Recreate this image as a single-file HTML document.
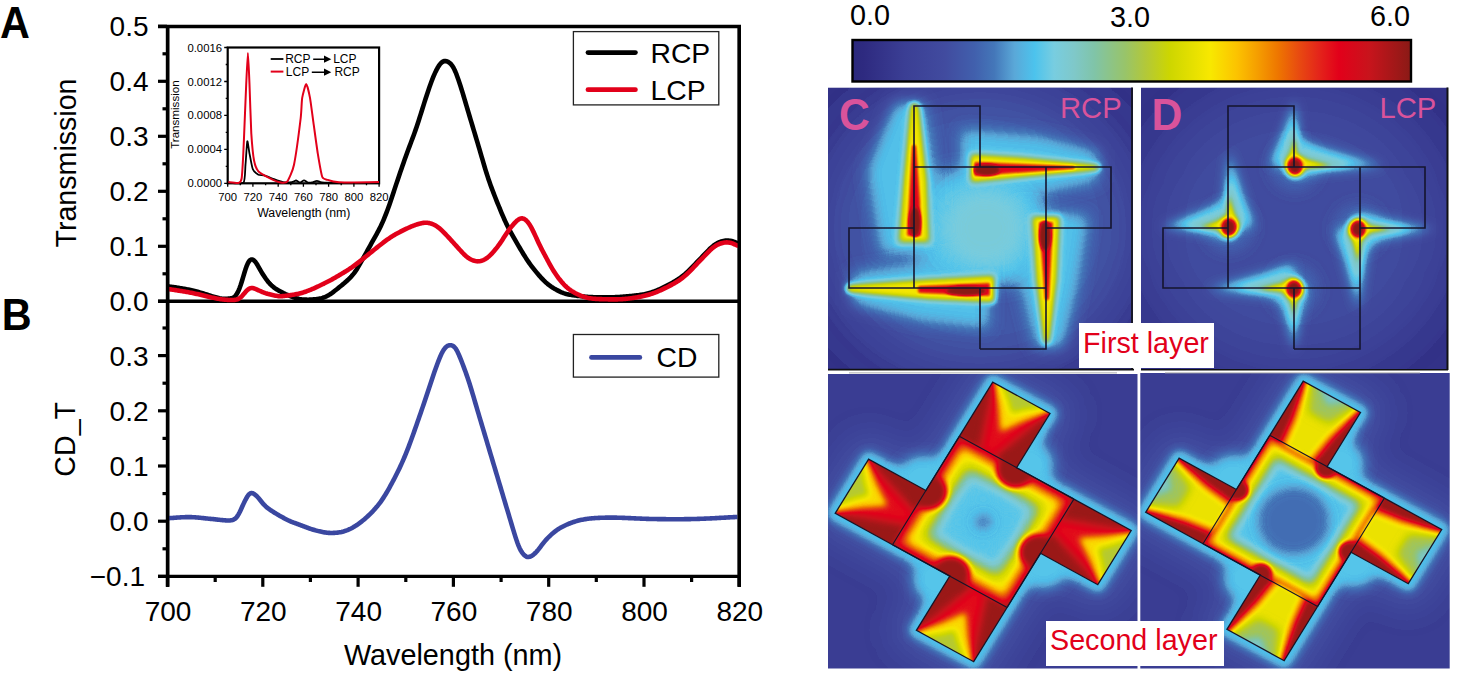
<!DOCTYPE html><html><head><meta charset="utf-8"><style>
html,body{margin:0;padding:0;background:#fff;width:1458px;height:674px;overflow:hidden}
svg{display:block}
text{font-family:"Liberation Sans",sans-serif}
</style></head><body>
<svg width="1458" height="674" viewBox="0 0 1458 674">
<defs>
<linearGradient id="cbar" x1="0" x2="1" y1="0" y2="0"><stop offset="0.000" stop-color="#2b297d"/><stop offset="0.020" stop-color="#2e2a80"/><stop offset="0.095" stop-color="#3b3f95"/><stop offset="0.165" stop-color="#414b9f"/><stop offset="0.219" stop-color="#4160ad"/><stop offset="0.254" stop-color="#4477b9"/><stop offset="0.290" stop-color="#5aa8d8"/><stop offset="0.326" stop-color="#4cc3ed"/><stop offset="0.361" stop-color="#78cde0"/><stop offset="0.397" stop-color="#7fc8c9"/><stop offset="0.433" stop-color="#80c4a8"/><stop offset="0.467" stop-color="#8fc481"/><stop offset="0.488" stop-color="#98c46a"/><stop offset="0.524" stop-color="#b2c83a"/><stop offset="0.568" stop-color="#cdd600"/><stop offset="0.641" stop-color="#f8e800"/><stop offset="0.689" stop-color="#fcc200"/><stop offset="0.725" stop-color="#f59e00"/><stop offset="0.762" stop-color="#ee7600"/><stop offset="0.798" stop-color="#e84c10"/><stop offset="0.834" stop-color="#e4261a"/><stop offset="0.871" stop-color="#e2001a"/><stop offset="0.925" stop-color="#c8141c"/><stop offset="1.000" stop-color="#8a1a16"/></linearGradient>
<filter id="cmap" x="0" y="0" width="1" height="1" color-interpolation-filters="sRGB">
<feComponentTransfer><feFuncR type="table" tableValues="0.169 0.178 0.188 0.199 0.210 0.221 0.231 0.237 0.242 0.247 0.253 0.255 0.255 0.255 0.256 0.261 0.267 0.305 0.343 0.335 0.311 0.334 0.412 0.474 0.486 0.498 0.500 0.501 0.522 0.549 0.576 0.608 0.653 0.697 0.736 0.774 0.812 0.849 0.885 0.922 0.959 0.976 0.981 0.986 0.981 0.969 0.957 0.945 0.933 0.923 0.913 0.905 0.898 0.893 0.889 0.882 0.852 0.823 0.793 0.747 0.696 0.644 0.593 0.541"/><feFuncG type="table" tableValues="0.161 0.164 0.178 0.195 0.212 0.230 0.247 0.258 0.269 0.279 0.290 0.309 0.333 0.357 0.385 0.426 0.467 0.551 0.636 0.693 0.740 0.773 0.791 0.802 0.793 0.784 0.777 0.771 0.769 0.769 0.769 0.770 0.777 0.784 0.804 0.824 0.843 0.858 0.873 0.889 0.904 0.879 0.830 0.781 0.724 0.662 0.598 0.530 0.463 0.391 0.318 0.250 0.185 0.120 0.056 0.003 0.026 0.049 0.072 0.082 0.087 0.092 0.097 0.102"/><feFuncB type="table" tableValues="0.490 0.500 0.515 0.532 0.550 0.567 0.584 0.593 0.602 0.611 0.620 0.633 0.649 0.666 0.683 0.704 0.725 0.779 0.833 0.874 0.910 0.919 0.896 0.868 0.828 0.789 0.732 0.675 0.607 0.536 0.466 0.394 0.311 0.228 0.146 0.064 0.000 0.000 0.000 0.000 0.000 0.000 0.000 0.000 0.000 0.000 0.000 0.000 0.000 0.027 0.055 0.075 0.093 0.102 0.102 0.102 0.105 0.107 0.109 0.106 0.101 0.096 0.091 0.086"/><feFuncA type="identity"/></feComponentTransfer>
</filter>
<filter id="b1" x="-50%" y="-50%" width="200%" height="200%"><feGaussianBlur stdDeviation="1"/></filter>
<filter id="b1_5" x="-50%" y="-50%" width="200%" height="200%"><feGaussianBlur stdDeviation="1.5"/></filter>
<filter id="b2_5" x="-50%" y="-50%" width="200%" height="200%"><feGaussianBlur stdDeviation="2.5"/></filter>
<filter id="b3_5" x="-50%" y="-50%" width="200%" height="200%"><feGaussianBlur stdDeviation="3.5"/></filter>
<filter id="b9" x="-50%" y="-50%" width="200%" height="200%"><feGaussianBlur stdDeviation="9"/></filter>
<filter id="b2" x="-50%" y="-50%" width="200%" height="200%"><feGaussianBlur stdDeviation="2"/></filter>
<filter id="b3" x="-50%" y="-50%" width="200%" height="200%"><feGaussianBlur stdDeviation="3"/></filter>
<filter id="b4" x="-50%" y="-50%" width="200%" height="200%"><feGaussianBlur stdDeviation="4"/></filter>
<filter id="b5" x="-50%" y="-50%" width="200%" height="200%"><feGaussianBlur stdDeviation="5"/></filter>
<filter id="b6" x="-50%" y="-50%" width="200%" height="200%"><feGaussianBlur stdDeviation="6"/></filter>
<filter id="b7" x="-50%" y="-50%" width="200%" height="200%"><feGaussianBlur stdDeviation="7"/></filter>
<filter id="b8" x="-50%" y="-50%" width="200%" height="200%"><feGaussianBlur stdDeviation="8"/></filter>
<filter id="b10" x="-50%" y="-50%" width="200%" height="200%"><feGaussianBlur stdDeviation="10"/></filter>
<filter id="b12" x="-50%" y="-50%" width="200%" height="200%"><feGaussianBlur stdDeviation="12"/></filter>
<filter id="b15" x="-50%" y="-50%" width="200%" height="200%"><feGaussianBlur stdDeviation="15"/></filter>
<filter id="b18" x="-50%" y="-50%" width="200%" height="200%"><feGaussianBlur stdDeviation="18"/></filter>
<filter id="b20" x="-50%" y="-50%" width="200%" height="200%"><feGaussianBlur stdDeviation="20"/></filter>
<filter id="b25" x="-50%" y="-50%" width="200%" height="200%"><feGaussianBlur stdDeviation="25"/></filter>
<filter id="b30" x="-50%" y="-50%" width="200%" height="200%"><feGaussianBlur stdDeviation="30"/></filter>
<clipPath id="clipC"><rect x="828" y="87.5" width="305" height="282.5"/></clipPath>
<clipPath id="clipD"><rect x="1141" y="87.5" width="307" height="282.5"/></clipPath>
<clipPath id="clipE"><rect x="828" y="374" width="309.5" height="294.5"/></clipPath>
<clipPath id="clipF"><rect x="1140.3" y="373" width="309.4" height="295.5"/></clipPath>
</defs>

<text x="0" y="37.8" font-size="45" font-weight="bold" transform="scale(0.92,1)">A</text>
<text x="2" y="329.6" font-size="45" font-weight="bold" transform="scale(0.92,1)">B</text>
<g stroke="#000" fill="none" stroke-linecap="butt">
<path d="M158.0,26.5 H739.3 V586.8" stroke-width="3.4"/>
<path d="M167.6,26.5 V586.8" stroke-width="3.4"/>
<path d="M158,301.3 H739.3" stroke-width="3.4"/>
<path d="M158,576.4 H739.3" stroke-width="3.4"/>
<path d="M158,301.3 H167" stroke-width="3.2"/>
<path d="M162.5,273.8 H167" stroke-width="3.2"/>
<path d="M158,246.3 H167" stroke-width="3.2"/>
<path d="M162.5,218.8 H167" stroke-width="3.2"/>
<path d="M158,191.3 H167" stroke-width="3.2"/>
<path d="M162.5,163.8 H167" stroke-width="3.2"/>
<path d="M158,136.3 H167" stroke-width="3.2"/>
<path d="M162.5,108.8 H167" stroke-width="3.2"/>
<path d="M158,81.3 H167" stroke-width="3.2"/>
<path d="M162.5,53.8 H167" stroke-width="3.2"/>
<path d="M158,26.3 H167" stroke-width="3.2"/>
<path d="M158,576.4 H167" stroke-width="3.2"/>
<path d="M162.5,548.8 H167" stroke-width="3.2"/>
<path d="M158,521.2 H167" stroke-width="3.2"/>
<path d="M162.5,493.6 H167" stroke-width="3.2"/>
<path d="M158,466.0 H167" stroke-width="3.2"/>
<path d="M162.5,438.4 H167" stroke-width="3.2"/>
<path d="M158,410.8 H167" stroke-width="3.2"/>
<path d="M162.5,383.2 H167" stroke-width="3.2"/>
<path d="M158,355.6 H167" stroke-width="3.2"/>
<path d="M162.5,328.0 H167" stroke-width="3.2"/>
<path d="M167.5,576.4 V586.8" stroke-width="3.2"/>
<path d="M215.2,576.4 V582" stroke-width="3.2"/>
<path d="M262.8,576.4 V586.8" stroke-width="3.2"/>
<path d="M310.4,576.4 V582" stroke-width="3.2"/>
<path d="M358.1,576.4 V586.8" stroke-width="3.2"/>
<path d="M405.8,576.4 V582" stroke-width="3.2"/>
<path d="M453.4,576.4 V586.8" stroke-width="3.2"/>
<path d="M501.1,576.4 V582" stroke-width="3.2"/>
<path d="M548.7,576.4 V586.8" stroke-width="3.2"/>
<path d="M596.3,576.4 V582" stroke-width="3.2"/>
<path d="M644.0,576.4 V586.8" stroke-width="3.2"/>
<path d="M691.6,576.4 V582" stroke-width="3.2"/>
<path d="M739.3,576.4 V586.8" stroke-width="3.2"/>
</g>
<g font-size="28" text-anchor="end" fill="#000">
<text x="148.5" y="311.3">0.0</text>
<text x="148.5" y="256.3">0.1</text>
<text x="148.5" y="201.3">0.2</text>
<text x="148.5" y="146.3">0.3</text>
<text x="148.5" y="91.3">0.4</text>
<text x="148.5" y="36.3">0.5</text>
<text x="148.5" y="365.6">0.3</text>
<text x="148.5" y="420.8">0.2</text>
<text x="148.5" y="476.0">0.1</text>
<text x="148.5" y="531.2">0.0</text>
<text x="145.0" y="586.4">−0.1</text>
</g>
<g font-size="28" text-anchor="middle" fill="#000">
<text x="168.0" y="620.8">700</text>
<text x="263.3" y="620.8">720</text>
<text x="358.6" y="620.8">740</text>
<text x="453.9" y="620.8">760</text>
<text x="549.2" y="620.8">780</text>
<text x="644.5" y="620.8">800</text>
<text x="739.8" y="620.8">820</text>
</g>
<text x="453" y="664.6" font-size="28.8" text-anchor="middle">Wavelength (nm)</text>
<text transform="translate(76,163) rotate(-90)" font-size="28.6" text-anchor="middle">Transmission</text>
<text transform="translate(75.3,439.3) rotate(-90)" font-size="28.6" text-anchor="middle">CD_T</text>
<path d="M167.5,286.32 L168.5,286.41 L169.5,286.53 L170.5,286.66 L171.5,286.81 L172.5,286.95 L173.5,287.10 L174.5,287.24 L175.5,287.39 L176.5,287.54 L177.5,287.69 L178.5,287.85 L179.5,288.00 L180.5,288.16 L181.5,288.32 L182.5,288.49 L183.5,288.66 L184.5,288.83 L185.5,289.01 L186.5,289.20 L187.5,289.39 L188.5,289.58 L189.5,289.78 L190.5,290.00 L191.5,290.22 L192.5,290.45 L193.5,290.69 L194.5,290.94 L195.5,291.21 L196.5,291.48 L197.5,291.76 L198.5,292.05 L199.5,292.34 L200.5,292.64 L201.5,292.94 L202.5,293.25 L203.5,293.56 L204.5,293.88 L205.5,294.19 L206.5,294.51 L207.5,294.82 L208.5,295.14 L209.5,295.45 L210.5,295.77 L211.5,296.08 L212.5,296.38 L213.5,296.68 L214.5,296.98 L215.5,297.26 L216.5,297.54 L217.5,297.80 L218.5,298.04 L219.5,298.26 L220.5,298.45 L221.5,298.62 L222.5,298.74 L223.5,298.83 L224.5,298.88 L225.5,298.88 L226.5,298.83 L227.5,298.75 L228.5,298.64 L229.5,298.52 L230.5,298.39 L231.5,298.22 L232.5,297.94 L233.5,297.48 L234.5,296.78 L235.5,295.77 L236.5,294.44 L237.5,292.75 L238.5,290.70 L239.5,288.29 L240.5,285.54 L241.5,282.50 L242.5,279.25 L243.5,275.89 L244.5,272.53 L245.5,269.34 L246.5,266.47 L247.5,264.03 L248.5,262.09 L249.5,260.68 L250.5,259.80 L251.5,259.43 L252.5,259.53 L253.5,260.03 L254.5,260.89 L255.5,262.04 L256.5,263.46 L257.5,265.06 L258.5,266.79 L259.5,268.57 L260.5,270.34 L261.5,272.05 L262.5,273.71 L263.5,275.30 L264.5,276.82 L265.5,278.27 L266.5,279.65 L267.5,280.95 L268.5,282.17 L269.5,283.30 L270.5,284.36 L271.5,285.34 L272.5,286.24 L273.5,287.08 L274.5,287.85 L275.5,288.57 L276.5,289.23 L277.5,289.86 L278.5,290.44 L279.5,291.00 L280.5,291.54 L281.5,292.07 L282.5,292.58 L283.5,293.09 L284.5,293.57 L285.5,294.05 L286.5,294.50 L287.5,294.94 L288.5,295.36 L289.5,295.77 L290.5,296.17 L291.5,296.56 L292.5,296.95 L293.5,297.32 L294.5,297.68 L295.5,298.02 L296.5,298.33 L297.5,298.60 L298.5,298.84 L299.5,299.04 L300.5,299.21 L301.5,299.35 L302.5,299.45 L303.5,299.54 L304.5,299.60 L305.5,299.65 L306.5,299.67 L307.5,299.68 L308.5,299.68 L309.5,299.65 L310.5,299.61 L311.5,299.55 L312.5,299.49 L313.5,299.40 L314.5,299.31 L315.5,299.20 L316.5,299.09 L317.5,298.95 L318.5,298.79 L319.5,298.61 L320.5,298.40 L321.5,298.16 L322.5,297.88 L323.5,297.55 L324.5,297.19 L325.5,296.77 L326.5,296.30 L327.5,295.79 L328.5,295.22 L329.5,294.62 L330.5,293.96 L331.5,293.28 L332.5,292.56 L333.5,291.81 L334.5,291.04 L335.5,290.26 L336.5,289.47 L337.5,288.68 L338.5,287.88 L339.5,287.07 L340.5,286.26 L341.5,285.45 L342.5,284.62 L343.5,283.79 L344.5,282.94 L345.5,282.07 L346.5,281.18 L347.5,280.27 L348.5,279.33 L349.5,278.35 L350.5,277.33 L351.5,276.25 L352.5,275.10 L353.5,273.88 L354.5,272.57 L355.5,271.16 L356.5,269.66 L357.5,268.08 L358.5,266.42 L359.5,264.70 L360.5,262.94 L361.5,261.17 L362.5,259.39 L363.5,257.62 L364.5,255.85 L365.5,254.08 L366.5,252.29 L367.5,250.49 L368.5,248.67 L369.5,246.84 L370.5,245.02 L371.5,243.20 L372.5,241.40 L373.5,239.62 L374.5,237.84 L375.5,236.06 L376.5,234.27 L377.5,232.45 L378.5,230.59 L379.5,228.66 L380.5,226.66 L381.5,224.58 L382.5,222.39 L383.5,220.10 L384.5,217.70 L385.5,215.22 L386.5,212.64 L387.5,209.98 L388.5,207.24 L389.5,204.41 L390.5,201.51 L391.5,198.54 L392.5,195.52 L393.5,192.47 L394.5,189.41 L395.5,186.38 L396.5,183.37 L397.5,180.40 L398.5,177.45 L399.5,174.52 L400.5,171.61 L401.5,168.71 L402.5,165.82 L403.5,162.95 L404.5,160.10 L405.5,157.28 L406.5,154.48 L407.5,151.72 L408.5,149.01 L409.5,146.33 L410.5,143.69 L411.5,141.05 L412.5,138.39 L413.5,135.70 L414.5,132.95 L415.5,130.13 L416.5,127.23 L417.5,124.24 L418.5,121.18 L419.5,118.07 L420.5,114.91 L421.5,111.72 L422.5,108.53 L423.5,105.34 L424.5,102.17 L425.5,99.03 L426.5,95.95 L427.5,92.92 L428.5,89.96 L429.5,87.06 L430.5,84.25 L431.5,81.53 L432.5,78.92 L433.5,76.44 L434.5,74.10 L435.5,71.91 L436.5,69.89 L437.5,68.04 L438.5,66.37 L439.5,64.91 L440.5,63.66 L441.5,62.64 L442.5,61.86 L443.5,61.34 L444.5,61.08 L445.5,61.06 L446.5,61.23 L447.5,61.58 L448.5,62.10 L449.5,62.79 L450.5,63.66 L451.5,64.77 L452.5,66.14 L453.5,67.79 L454.5,69.74 L455.5,71.99 L456.5,74.48 L457.5,77.18 L458.5,80.03 L459.5,83.00 L460.5,86.06 L461.5,89.20 L462.5,92.43 L463.5,95.74 L464.5,99.10 L465.5,102.48 L466.5,105.87 L467.5,109.25 L468.5,112.62 L469.5,115.97 L470.5,119.31 L471.5,122.65 L472.5,125.99 L473.5,129.33 L474.5,132.67 L475.5,136.01 L476.5,139.35 L477.5,142.71 L478.5,146.08 L479.5,149.46 L480.5,152.87 L481.5,156.30 L482.5,159.72 L483.5,163.13 L484.5,166.50 L485.5,169.81 L486.5,173.03 L487.5,176.15 L488.5,179.17 L489.5,182.08 L490.5,184.90 L491.5,187.64 L492.5,190.31 L493.5,192.92 L494.5,195.48 L495.5,198.02 L496.5,200.53 L497.5,203.03 L498.5,205.51 L499.5,207.96 L500.5,210.40 L501.5,212.80 L502.5,215.15 L503.5,217.46 L504.5,219.72 L505.5,221.91 L506.5,224.04 L507.5,226.09 L508.5,228.08 L509.5,230.01 L510.5,231.87 L511.5,233.69 L512.5,235.47 L513.5,237.22 L514.5,238.95 L515.5,240.67 L516.5,242.39 L517.5,244.10 L518.5,245.81 L519.5,247.52 L520.5,249.21 L521.5,250.89 L522.5,252.55 L523.5,254.19 L524.5,255.81 L525.5,257.39 L526.5,258.94 L527.5,260.44 L528.5,261.91 L529.5,263.33 L530.5,264.72 L531.5,266.06 L532.5,267.38 L533.5,268.66 L534.5,269.92 L535.5,271.15 L536.5,272.36 L537.5,273.55 L538.5,274.72 L539.5,275.87 L540.5,276.99 L541.5,278.09 L542.5,279.16 L543.5,280.19 L544.5,281.17 L545.5,282.11 L546.5,282.99 L547.5,283.83 L548.5,284.63 L549.5,285.39 L550.5,286.11 L551.5,286.81 L552.5,287.47 L553.5,288.10 L554.5,288.71 L555.5,289.28 L556.5,289.84 L557.5,290.36 L558.5,290.87 L559.5,291.36 L560.5,291.83 L561.5,292.27 L562.5,292.68 L563.5,293.06 L564.5,293.40 L565.5,293.71 L566.5,293.98 L567.5,294.22 L568.5,294.44 L569.5,294.64 L570.5,294.83 L571.5,295.00 L572.5,295.16 L573.5,295.31 L574.5,295.46 L575.5,295.59 L576.5,295.73 L577.5,295.85 L578.5,295.97 L579.5,296.09 L580.5,296.20 L581.5,296.31 L582.5,296.41 L583.5,296.51 L584.5,296.60 L585.5,296.69 L586.5,296.78 L587.5,296.86 L588.5,296.93 L589.5,297.00 L590.5,297.06 L591.5,297.12 L592.5,297.17 L593.5,297.22 L594.5,297.26 L595.5,297.30 L596.5,297.33 L597.5,297.35 L598.5,297.37 L599.5,297.39 L600.5,297.40 L601.5,297.41 L602.5,297.42 L603.5,297.42 L604.5,297.42 L605.5,297.41 L606.5,297.40 L607.5,297.39 L608.5,297.37 L609.5,297.35 L610.5,297.33 L611.5,297.30 L612.5,297.27 L613.5,297.24 L614.5,297.20 L615.5,297.16 L616.5,297.11 L617.5,297.06 L618.5,297.00 L619.5,296.94 L620.5,296.87 L621.5,296.80 L622.5,296.73 L623.5,296.65 L624.5,296.57 L625.5,296.48 L626.5,296.39 L627.5,296.30 L628.5,296.20 L629.5,296.11 L630.5,296.02 L631.5,295.92 L632.5,295.83 L633.5,295.73 L634.5,295.62 L635.5,295.52 L636.5,295.41 L637.5,295.29 L638.5,295.16 L639.5,295.03 L640.5,294.89 L641.5,294.74 L642.5,294.57 L643.5,294.40 L644.5,294.21 L645.5,294.00 L646.5,293.78 L647.5,293.54 L648.5,293.28 L649.5,293.00 L650.5,292.70 L651.5,292.38 L652.5,292.05 L653.5,291.70 L654.5,291.33 L655.5,290.94 L656.5,290.54 L657.5,290.12 L658.5,289.69 L659.5,289.24 L660.5,288.78 L661.5,288.31 L662.5,287.83 L663.5,287.34 L664.5,286.84 L665.5,286.34 L666.5,285.84 L667.5,285.33 L668.5,284.81 L669.5,284.29 L670.5,283.76 L671.5,283.22 L672.5,282.67 L673.5,282.10 L674.5,281.52 L675.5,280.93 L676.5,280.31 L677.5,279.68 L678.5,279.02 L679.5,278.34 L680.5,277.64 L681.5,276.90 L682.5,276.14 L683.5,275.35 L684.5,274.52 L685.5,273.66 L686.5,272.76 L687.5,271.84 L688.5,270.88 L689.5,269.91 L690.5,268.91 L691.5,267.90 L692.5,266.87 L693.5,265.83 L694.5,264.79 L695.5,263.74 L696.5,262.69 L697.5,261.64 L698.5,260.59 L699.5,259.55 L700.5,258.52 L701.5,257.49 L702.5,256.47 L703.5,255.43 L704.5,254.39 L705.5,253.34 L706.5,252.30 L707.5,251.26 L708.5,250.23 L709.5,249.24 L710.5,248.28 L711.5,247.37 L712.5,246.51 L713.5,245.71 L714.5,244.98 L715.5,244.30 L716.5,243.68 L717.5,243.12 L718.5,242.62 L719.5,242.17 L720.5,241.78 L721.5,241.43 L722.5,241.13 L723.5,240.90 L724.5,240.72 L725.5,240.60 L726.5,240.54 L727.5,240.53 L728.5,240.58 L729.5,240.69 L730.5,240.84 L731.5,241.04 L732.5,241.29 L733.5,241.60 L734.5,241.94 L735.5,242.30 L736.5,242.66 L737.5,242.98 L738.5,243.23" fill="none" stroke="#000" stroke-width="4.6" stroke-linejoin="round"/>
<path d="M167.5,289.03 L168.5,289.12 L169.5,289.24 L170.5,289.38 L171.5,289.53 L172.5,289.68 L173.5,289.83 L174.5,289.99 L175.5,290.14 L176.5,290.30 L177.5,290.46 L178.5,290.61 L179.5,290.77 L180.5,290.93 L181.5,291.09 L182.5,291.26 L183.5,291.42 L184.5,291.59 L185.5,291.76 L186.5,291.93 L187.5,292.11 L188.5,292.28 L189.5,292.46 L190.5,292.65 L191.5,292.84 L192.5,293.03 L193.5,293.23 L194.5,293.44 L195.5,293.66 L196.5,293.88 L197.5,294.10 L198.5,294.33 L199.5,294.56 L200.5,294.80 L201.5,295.04 L202.5,295.28 L203.5,295.52 L204.5,295.76 L205.5,296.00 L206.5,296.24 L207.5,296.48 L208.5,296.72 L209.5,296.96 L210.5,297.19 L211.5,297.42 L212.5,297.65 L213.5,297.87 L214.5,298.08 L215.5,298.29 L216.5,298.49 L217.5,298.67 L218.5,298.85 L219.5,299.01 L220.5,299.16 L221.5,299.30 L222.5,299.43 L223.5,299.54 L224.5,299.65 L225.5,299.74 L226.5,299.82 L227.5,299.89 L228.5,299.94 L229.5,299.98 L230.5,300.00 L231.5,300.00 L232.5,299.98 L233.5,299.94 L234.5,299.87 L235.5,299.75 L236.5,299.57 L237.5,299.29 L238.5,298.88 L239.5,298.30 L240.5,297.52 L241.5,296.56 L242.5,295.49 L243.5,294.34 L244.5,293.16 L245.5,292.01 L246.5,290.92 L247.5,289.95 L248.5,289.15 L249.5,288.55 L250.5,288.17 L251.5,288.01 L252.5,288.04 L253.5,288.25 L254.5,288.58 L255.5,288.98 L256.5,289.43 L257.5,289.88 L258.5,290.32 L259.5,290.76 L260.5,291.19 L261.5,291.61 L262.5,292.02 L263.5,292.42 L264.5,292.79 L265.5,293.14 L266.5,293.46 L267.5,293.76 L268.5,294.03 L269.5,294.29 L270.5,294.53 L271.5,294.76 L272.5,294.98 L273.5,295.20 L274.5,295.42 L275.5,295.64 L276.5,295.83 L277.5,296.00 L278.5,296.12 L279.5,296.19 L280.5,296.21 L281.5,296.18 L282.5,296.12 L283.5,296.04 L284.5,295.94 L285.5,295.82 L286.5,295.69 L287.5,295.56 L288.5,295.42 L289.5,295.27 L290.5,295.12 L291.5,294.97 L292.5,294.82 L293.5,294.66 L294.5,294.49 L295.5,294.32 L296.5,294.13 L297.5,293.93 L298.5,293.72 L299.5,293.49 L300.5,293.24 L301.5,292.97 L302.5,292.68 L303.5,292.37 L304.5,292.04 L305.5,291.70 L306.5,291.34 L307.5,290.96 L308.5,290.58 L309.5,290.19 L310.5,289.79 L311.5,289.38 L312.5,288.95 L313.5,288.52 L314.5,288.08 L315.5,287.63 L316.5,287.17 L317.5,286.71 L318.5,286.24 L319.5,285.76 L320.5,285.28 L321.5,284.79 L322.5,284.30 L323.5,283.81 L324.5,283.31 L325.5,282.81 L326.5,282.30 L327.5,281.78 L328.5,281.26 L329.5,280.73 L330.5,280.20 L331.5,279.66 L332.5,279.11 L333.5,278.55 L334.5,277.99 L335.5,277.42 L336.5,276.84 L337.5,276.26 L338.5,275.67 L339.5,275.08 L340.5,274.48 L341.5,273.88 L342.5,273.28 L343.5,272.67 L344.5,272.06 L345.5,271.45 L346.5,270.83 L347.5,270.21 L348.5,269.58 L349.5,268.93 L350.5,268.27 L351.5,267.60 L352.5,266.90 L353.5,266.19 L354.5,265.46 L355.5,264.71 L356.5,263.95 L357.5,263.17 L358.5,262.38 L359.5,261.59 L360.5,260.79 L361.5,259.99 L362.5,259.20 L363.5,258.40 L364.5,257.60 L365.5,256.79 L366.5,255.99 L367.5,255.18 L368.5,254.37 L369.5,253.56 L370.5,252.74 L371.5,251.93 L372.5,251.12 L373.5,250.31 L374.5,249.50 L375.5,248.70 L376.5,247.90 L377.5,247.10 L378.5,246.31 L379.5,245.52 L380.5,244.74 L381.5,243.97 L382.5,243.21 L383.5,242.45 L384.5,241.69 L385.5,240.95 L386.5,240.21 L387.5,239.48 L388.5,238.77 L389.5,238.08 L390.5,237.40 L391.5,236.75 L392.5,236.12 L393.5,235.51 L394.5,234.92 L395.5,234.34 L396.5,233.78 L397.5,233.23 L398.5,232.69 L399.5,232.16 L400.5,231.64 L401.5,231.13 L402.5,230.62 L403.5,230.13 L404.5,229.64 L405.5,229.16 L406.5,228.69 L407.5,228.23 L408.5,227.77 L409.5,227.33 L410.5,226.90 L411.5,226.49 L412.5,226.08 L413.5,225.69 L414.5,225.31 L415.5,224.94 L416.5,224.59 L417.5,224.25 L418.5,223.94 L419.5,223.65 L420.5,223.39 L421.5,223.16 L422.5,222.98 L423.5,222.84 L424.5,222.75 L425.5,222.71 L426.5,222.73 L427.5,222.80 L428.5,222.93 L429.5,223.12 L430.5,223.37 L431.5,223.68 L432.5,224.05 L433.5,224.49 L434.5,224.98 L435.5,225.53 L436.5,226.14 L437.5,226.81 L438.5,227.54 L439.5,228.35 L440.5,229.21 L441.5,230.13 L442.5,231.10 L443.5,232.10 L444.5,233.13 L445.5,234.18 L446.5,235.23 L447.5,236.28 L448.5,237.34 L449.5,238.41 L450.5,239.49 L451.5,240.59 L452.5,241.69 L453.5,242.81 L454.5,243.93 L455.5,245.04 L456.5,246.15 L457.5,247.26 L458.5,248.36 L459.5,249.45 L460.5,250.54 L461.5,251.63 L462.5,252.71 L463.5,253.75 L464.5,254.75 L465.5,255.69 L466.5,256.55 L467.5,257.33 L468.5,258.03 L469.5,258.66 L470.5,259.23 L471.5,259.74 L472.5,260.18 L473.5,260.56 L474.5,260.87 L475.5,261.10 L476.5,261.26 L477.5,261.33 L478.5,261.31 L479.5,261.22 L480.5,261.04 L481.5,260.78 L482.5,260.44 L483.5,260.02 L484.5,259.52 L485.5,258.94 L486.5,258.28 L487.5,257.55 L488.5,256.74 L489.5,255.86 L490.5,254.91 L491.5,253.89 L492.5,252.82 L493.5,251.70 L494.5,250.54 L495.5,249.34 L496.5,248.09 L497.5,246.81 L498.5,245.48 L499.5,244.10 L500.5,242.66 L501.5,241.17 L502.5,239.63 L503.5,238.07 L504.5,236.50 L505.5,234.95 L506.5,233.43 L507.5,231.96 L508.5,230.55 L509.5,229.20 L510.5,227.90 L511.5,226.64 L512.5,225.42 L513.5,224.25 L514.5,223.12 L515.5,222.07 L516.5,221.10 L517.5,220.25 L518.5,219.53 L519.5,218.97 L520.5,218.59 L521.5,218.40 L522.5,218.42 L523.5,218.66 L524.5,219.11 L525.5,219.79 L526.5,220.68 L527.5,221.78 L528.5,223.05 L529.5,224.51 L530.5,226.14 L531.5,227.92 L532.5,229.84 L533.5,231.86 L534.5,233.97 L535.5,236.13 L536.5,238.32 L537.5,240.52 L538.5,242.68 L539.5,244.80 L540.5,246.86 L541.5,248.85 L542.5,250.77 L543.5,252.66 L544.5,254.53 L545.5,256.39 L546.5,258.25 L547.5,260.11 L548.5,261.97 L549.5,263.80 L550.5,265.60 L551.5,267.36 L552.5,269.06 L553.5,270.71 L554.5,272.29 L555.5,273.80 L556.5,275.26 L557.5,276.66 L558.5,278.01 L559.5,279.31 L560.5,280.55 L561.5,281.75 L562.5,282.89 L563.5,283.99 L564.5,285.04 L565.5,286.04 L566.5,286.99 L567.5,287.88 L568.5,288.71 L569.5,289.49 L570.5,290.21 L571.5,290.88 L572.5,291.51 L573.5,292.10 L574.5,292.66 L575.5,293.20 L576.5,293.71 L577.5,294.20 L578.5,294.67 L579.5,295.11 L580.5,295.53 L581.5,295.93 L582.5,296.30 L583.5,296.64 L584.5,296.96 L585.5,297.25 L586.5,297.52 L587.5,297.76 L588.5,297.97 L589.5,298.16 L590.5,298.32 L591.5,298.46 L592.5,298.59 L593.5,298.69 L594.5,298.79 L595.5,298.86 L596.5,298.93 L597.5,298.99 L598.5,299.04 L599.5,299.09 L600.5,299.13 L601.5,299.16 L602.5,299.19 L603.5,299.22 L604.5,299.24 L605.5,299.26 L606.5,299.29 L607.5,299.31 L608.5,299.33 L609.5,299.35 L610.5,299.36 L611.5,299.37 L612.5,299.38 L613.5,299.39 L614.5,299.38 L615.5,299.38 L616.5,299.36 L617.5,299.34 L618.5,299.31 L619.5,299.28 L620.5,299.23 L621.5,299.18 L622.5,299.12 L623.5,299.04 L624.5,298.96 L625.5,298.87 L626.5,298.77 L627.5,298.67 L628.5,298.55 L629.5,298.43 L630.5,298.31 L631.5,298.17 L632.5,298.03 L633.5,297.89 L634.5,297.74 L635.5,297.58 L636.5,297.42 L637.5,297.24 L638.5,297.07 L639.5,296.88 L640.5,296.69 L641.5,296.48 L642.5,296.27 L643.5,296.05 L644.5,295.82 L645.5,295.58 L646.5,295.32 L647.5,295.05 L648.5,294.77 L649.5,294.48 L650.5,294.17 L651.5,293.85 L652.5,293.51 L653.5,293.16 L654.5,292.80 L655.5,292.42 L656.5,292.02 L657.5,291.62 L658.5,291.20 L659.5,290.76 L660.5,290.32 L661.5,289.86 L662.5,289.39 L663.5,288.92 L664.5,288.43 L665.5,287.94 L666.5,287.44 L667.5,286.94 L668.5,286.43 L669.5,285.91 L670.5,285.39 L671.5,284.86 L672.5,284.31 L673.5,283.76 L674.5,283.18 L675.5,282.60 L676.5,281.99 L677.5,281.36 L678.5,280.71 L679.5,280.03 L680.5,279.33 L681.5,278.60 L682.5,277.84 L683.5,277.04 L684.5,276.21 L685.5,275.35 L686.5,274.45 L687.5,273.52 L688.5,272.57 L689.5,271.58 L690.5,270.58 L691.5,269.56 L692.5,268.53 L693.5,267.48 L694.5,266.43 L695.5,265.37 L696.5,264.31 L697.5,263.26 L698.5,262.21 L699.5,261.16 L700.5,260.13 L701.5,259.09 L702.5,258.06 L703.5,257.02 L704.5,255.98 L705.5,254.93 L706.5,253.88 L707.5,252.84 L708.5,251.82 L709.5,250.82 L710.5,249.87 L711.5,248.96 L712.5,248.11 L713.5,247.32 L714.5,246.60 L715.5,245.94 L716.5,245.34 L717.5,244.80 L718.5,244.32 L719.5,243.90 L720.5,243.52 L721.5,243.20 L722.5,242.93 L723.5,242.71 L724.5,242.55 L725.5,242.44 L726.5,242.40 L727.5,242.42 L728.5,242.50 L729.5,242.64 L730.5,242.84 L731.5,243.11 L732.5,243.44 L733.5,243.84 L734.5,244.28 L735.5,244.74 L736.5,245.20 L737.5,245.61 L738.5,245.93" fill="none" stroke="#e2001a" stroke-width="4.6" stroke-linejoin="round"/>
<path d="M167.5,518.25 L168.5,518.20 L169.5,518.15 L170.5,518.08 L171.5,518.01 L172.5,517.93 L173.5,517.86 L174.5,517.78 L175.5,517.71 L176.5,517.64 L177.5,517.57 L178.5,517.50 L179.5,517.44 L180.5,517.38 L181.5,517.32 L182.5,517.27 L183.5,517.23 L184.5,517.19 L185.5,517.16 L186.5,517.13 L187.5,517.12 L188.5,517.12 L189.5,517.12 L190.5,517.14 L191.5,517.17 L192.5,517.21 L193.5,517.26 L194.5,517.32 L195.5,517.39 L196.5,517.47 L197.5,517.55 L198.5,517.64 L199.5,517.73 L200.5,517.83 L201.5,517.93 L202.5,518.03 L203.5,518.14 L204.5,518.25 L205.5,518.35 L206.5,518.46 L207.5,518.57 L208.5,518.67 L209.5,518.77 L210.5,518.87 L211.5,518.96 L212.5,519.06 L213.5,519.16 L214.5,519.26 L215.5,519.37 L216.5,519.48 L217.5,519.59 L218.5,519.71 L219.5,519.82 L220.5,519.94 L221.5,520.05 L222.5,520.15 L223.5,520.25 L224.5,520.33 L225.5,520.40 L226.5,520.45 L227.5,520.48 L228.5,520.47 L229.5,520.43 L230.5,520.35 L231.5,520.20 L232.5,519.96 L233.5,519.61 L234.5,519.08 L235.5,518.33 L236.5,517.32 L237.5,516.02 L238.5,514.41 L239.5,512.54 L240.5,510.45 L241.5,508.26 L242.5,506.04 L243.5,503.88 L244.5,501.80 L245.5,499.81 L246.5,497.95 L247.5,496.28 L248.5,494.88 L249.5,493.84 L250.5,493.23 L251.5,493.05 L252.5,493.23 L253.5,493.67 L254.5,494.30 L255.5,495.07 L256.5,495.94 L257.5,496.93 L258.5,498.02 L259.5,499.21 L260.5,500.46 L261.5,501.73 L262.5,502.96 L263.5,504.14 L264.5,505.22 L265.5,506.21 L266.5,507.11 L267.5,507.93 L268.5,508.70 L269.5,509.42 L270.5,510.11 L271.5,510.78 L272.5,511.43 L273.5,512.06 L274.5,512.69 L275.5,513.30 L276.5,513.90 L277.5,514.49 L278.5,515.08 L279.5,515.66 L280.5,516.23 L281.5,516.79 L282.5,517.34 L283.5,517.89 L284.5,518.43 L285.5,518.96 L286.5,519.47 L287.5,519.97 L288.5,520.45 L289.5,520.91 L290.5,521.35 L291.5,521.77 L292.5,522.17 L293.5,522.55 L294.5,522.92 L295.5,523.28 L296.5,523.64 L297.5,524.00 L298.5,524.36 L299.5,524.73 L300.5,525.10 L301.5,525.48 L302.5,525.86 L303.5,526.24 L304.5,526.62 L305.5,527.00 L306.5,527.38 L307.5,527.75 L308.5,528.12 L309.5,528.47 L310.5,528.82 L311.5,529.15 L312.5,529.47 L313.5,529.78 L314.5,530.07 L315.5,530.35 L316.5,530.62 L317.5,530.87 L318.5,531.12 L319.5,531.36 L320.5,531.58 L321.5,531.80 L322.5,532.00 L323.5,532.19 L324.5,532.36 L325.5,532.51 L326.5,532.65 L327.5,532.76 L328.5,532.84 L329.5,532.90 L330.5,532.94 L331.5,532.96 L332.5,532.95 L333.5,532.92 L334.5,532.87 L335.5,532.81 L336.5,532.72 L337.5,532.61 L338.5,532.48 L339.5,532.32 L340.5,532.14 L341.5,531.93 L342.5,531.69 L343.5,531.43 L344.5,531.13 L345.5,530.81 L346.5,530.45 L347.5,530.06 L348.5,529.64 L349.5,529.18 L350.5,528.70 L351.5,528.19 L352.5,527.65 L353.5,527.08 L354.5,526.48 L355.5,525.86 L356.5,525.21 L357.5,524.53 L358.5,523.83 L359.5,523.11 L360.5,522.36 L361.5,521.59 L362.5,520.79 L363.5,519.98 L364.5,519.14 L365.5,518.27 L366.5,517.39 L367.5,516.48 L368.5,515.55 L369.5,514.59 L370.5,513.61 L371.5,512.61 L372.5,511.57 L373.5,510.51 L374.5,509.41 L375.5,508.28 L376.5,507.11 L377.5,505.91 L378.5,504.65 L379.5,503.36 L380.5,502.01 L381.5,500.61 L382.5,499.15 L383.5,497.64 L384.5,496.07 L385.5,494.45 L386.5,492.78 L387.5,491.06 L388.5,489.31 L389.5,487.52 L390.5,485.71 L391.5,483.87 L392.5,482.01 L393.5,480.12 L394.5,478.21 L395.5,476.26 L396.5,474.29 L397.5,472.29 L398.5,470.25 L399.5,468.16 L400.5,466.04 L401.5,463.86 L402.5,461.64 L403.5,459.36 L404.5,457.02 L405.5,454.62 L406.5,452.15 L407.5,449.63 L408.5,447.05 L409.5,444.41 L410.5,441.72 L411.5,439.00 L412.5,436.24 L413.5,433.44 L414.5,430.63 L415.5,427.79 L416.5,424.94 L417.5,422.09 L418.5,419.22 L419.5,416.35 L420.5,413.46 L421.5,410.55 L422.5,407.62 L423.5,404.67 L424.5,401.70 L425.5,398.71 L426.5,395.71 L427.5,392.71 L428.5,389.70 L429.5,386.69 L430.5,383.69 L431.5,380.69 L432.5,377.72 L433.5,374.78 L434.5,371.87 L435.5,369.01 L436.5,366.20 L437.5,363.46 L438.5,360.83 L439.5,358.33 L440.5,355.98 L441.5,353.82 L442.5,351.87 L443.5,350.16 L444.5,348.71 L445.5,347.53 L446.5,346.61 L447.5,345.94 L448.5,345.49 L449.5,345.25 L450.5,345.20 L451.5,345.34 L452.5,345.68 L453.5,346.27 L454.5,347.15 L455.5,348.36 L456.5,349.91 L457.5,351.79 L458.5,353.92 L459.5,356.24 L460.5,358.68 L461.5,361.20 L462.5,363.78 L463.5,366.41 L464.5,369.09 L465.5,371.83 L466.5,374.64 L467.5,377.53 L468.5,380.51 L469.5,383.58 L470.5,386.75 L471.5,389.99 L472.5,393.31 L473.5,396.68 L474.5,400.08 L475.5,403.50 L476.5,406.91 L477.5,410.31 L478.5,413.69 L479.5,417.06 L480.5,420.41 L481.5,423.75 L482.5,427.09 L483.5,430.43 L484.5,433.77 L485.5,437.11 L486.5,440.45 L487.5,443.79 L488.5,447.13 L489.5,450.47 L490.5,453.81 L491.5,457.15 L492.5,460.49 L493.5,463.83 L494.5,467.17 L495.5,470.51 L496.5,473.86 L497.5,477.20 L498.5,480.54 L499.5,483.89 L500.5,487.24 L501.5,490.59 L502.5,493.94 L503.5,497.29 L504.5,500.63 L505.5,503.97 L506.5,507.30 L507.5,510.63 L508.5,513.96 L509.5,517.30 L510.5,520.64 L511.5,523.99 L512.5,527.34 L513.5,530.65 L514.5,533.91 L515.5,537.09 L516.5,540.14 L517.5,543.01 L518.5,545.63 L519.5,547.97 L520.5,549.98 L521.5,551.68 L522.5,553.10 L523.5,554.30 L524.5,555.31 L525.5,556.11 L526.5,556.68 L527.5,556.99 L528.5,557.04 L529.5,556.86 L530.5,556.49 L531.5,555.98 L532.5,555.34 L533.5,554.59 L534.5,553.74 L535.5,552.80 L536.5,551.75 L537.5,550.62 L538.5,549.40 L539.5,548.12 L540.5,546.80 L541.5,545.47 L542.5,544.15 L543.5,542.87 L544.5,541.63 L545.5,540.46 L546.5,539.34 L547.5,538.28 L548.5,537.26 L549.5,536.28 L550.5,535.33 L551.5,534.42 L552.5,533.53 L553.5,532.68 L554.5,531.86 L555.5,531.09 L556.5,530.35 L557.5,529.66 L558.5,529.00 L559.5,528.38 L560.5,527.79 L561.5,527.23 L562.5,526.70 L563.5,526.19 L564.5,525.70 L565.5,525.23 L566.5,524.77 L567.5,524.33 L568.5,523.91 L569.5,523.50 L570.5,523.11 L571.5,522.74 L572.5,522.38 L573.5,522.04 L574.5,521.72 L575.5,521.41 L576.5,521.11 L577.5,520.83 L578.5,520.57 L579.5,520.32 L580.5,520.09 L581.5,519.87 L582.5,519.67 L583.5,519.48 L584.5,519.30 L585.5,519.14 L586.5,518.98 L587.5,518.84 L588.5,518.71 L589.5,518.59 L590.5,518.48 L591.5,518.38 L592.5,518.29 L593.5,518.20 L594.5,518.13 L595.5,518.06 L596.5,518.00 L597.5,517.94 L598.5,517.89 L599.5,517.85 L600.5,517.81 L601.5,517.78 L602.5,517.74 L603.5,517.72 L604.5,517.69 L605.5,517.67 L606.5,517.65 L607.5,517.64 L608.5,517.63 L609.5,517.61 L610.5,517.61 L611.5,517.60 L612.5,517.61 L613.5,517.61 L614.5,517.62 L615.5,517.64 L616.5,517.65 L617.5,517.68 L618.5,517.70 L619.5,517.73 L620.5,517.76 L621.5,517.80 L622.5,517.83 L623.5,517.87 L624.5,517.91 L625.5,517.95 L626.5,517.99 L627.5,518.04 L628.5,518.08 L629.5,518.12 L630.5,518.17 L631.5,518.21 L632.5,518.26 L633.5,518.31 L634.5,518.35 L635.5,518.40 L636.5,518.44 L637.5,518.49 L638.5,518.53 L639.5,518.57 L640.5,518.62 L641.5,518.66 L642.5,518.70 L643.5,518.74 L644.5,518.77 L645.5,518.81 L646.5,518.84 L647.5,518.87 L648.5,518.90 L649.5,518.93 L650.5,518.95 L651.5,518.98 L652.5,519.00 L653.5,519.01 L654.5,519.03 L655.5,519.05 L656.5,519.06 L657.5,519.08 L658.5,519.09 L659.5,519.10 L660.5,519.12 L661.5,519.13 L662.5,519.14 L663.5,519.15 L664.5,519.16 L665.5,519.17 L666.5,519.18 L667.5,519.19 L668.5,519.19 L669.5,519.20 L670.5,519.21 L671.5,519.21 L672.5,519.21 L673.5,519.22 L674.5,519.22 L675.5,519.22 L676.5,519.22 L677.5,519.22 L678.5,519.21 L679.5,519.21 L680.5,519.20 L681.5,519.20 L682.5,519.19 L683.5,519.18 L684.5,519.17 L685.5,519.16 L686.5,519.15 L687.5,519.14 L688.5,519.12 L689.5,519.10 L690.5,519.09 L691.5,519.07 L692.5,519.05 L693.5,519.02 L694.5,519.00 L695.5,518.97 L696.5,518.95 L697.5,518.92 L698.5,518.88 L699.5,518.85 L700.5,518.81 L701.5,518.78 L702.5,518.74 L703.5,518.70 L704.5,518.66 L705.5,518.61 L706.5,518.57 L707.5,518.52 L708.5,518.48 L709.5,518.43 L710.5,518.38 L711.5,518.33 L712.5,518.29 L713.5,518.24 L714.5,518.18 L715.5,518.13 L716.5,518.08 L717.5,518.03 L718.5,517.97 L719.5,517.92 L720.5,517.87 L721.5,517.81 L722.5,517.76 L723.5,517.70 L724.5,517.65 L725.5,517.59 L726.5,517.53 L727.5,517.48 L728.5,517.42 L729.5,517.37 L730.5,517.31 L731.5,517.25 L732.5,517.20 L733.5,517.14 L734.5,517.09 L735.5,517.04 L736.5,516.99 L737.5,516.96" fill="none" stroke="#3a47a0" stroke-width="4.6" stroke-linejoin="round"/>
<path d="M167.6,26.5 V586.8 M739.3,26.5 V586.8" stroke="#000" stroke-width="3.4"/>
<rect x="573.4" y="31.6" width="145.4" height="73.3" fill="#fff" stroke="#222" stroke-width="1.3"/>
<path d="M588,52.6 H635.4" stroke="#000" stroke-width="4.8" stroke-linecap="round"/>
<path d="M588,89.7 H635.4" stroke="#e2001a" stroke-width="4.8" stroke-linecap="round"/>
<text x="650.5" y="62.7" font-size="28.3">RCP</text>
<text x="650.5" y="99.7" font-size="28.3">LCP</text>
<rect x="573.4" y="334.5" width="145.4" height="42.6" fill="#fff" stroke="#222" stroke-width="1.3"/>
<path d="M591.5,357.4 H639.8" stroke="#3a47a0" stroke-width="4.8" stroke-linecap="round"/>
<text x="656.5" y="366.7" font-size="28.3">CD</text>
<g>
<rect x="227.7" y="47.5" width="151.4" height="135.8" fill="#fff" stroke="#000" stroke-width="2.2"/>
<path d="M228.3,182.7 C229.8,182.7 241.8,184.5 243.5,182.7 C245.2,180.9 245.1,168.8 245.5,164.7 C245.9,160.6 246.9,142.4 247.3,141.3 C247.7,140.2 248.9,150.8 249.5,153.6 C250.1,156.4 251.9,167.1 252.8,169.2 C253.7,171.3 257.3,174.1 258.4,174.7 C259.5,175.3 262.4,175.0 264.0,175.4 C265.6,175.8 272.1,178.5 274.0,179.2 C275.9,179.9 281.1,181.8 282.9,182.1 C284.7,182.4 290.5,182.3 291.8,182.1 C293.1,181.9 295.2,180.5 296.0,180.5 C296.8,180.5 299.2,182.5 300.0,182.5 C300.8,182.5 303.2,180.3 304.0,180.3 C304.8,180.3 307.2,182.3 308.0,182.5 C308.8,182.7 311.1,182.7 312.0,182.5 C312.9,182.3 316.0,180.8 317.0,180.8 C318.0,180.8 319.7,182.3 322.0,182.5 C324.3,182.7 334.3,182.8 340.0,182.8 C345.7,182.8 375.1,182.8 379.0,182.8" fill="none" stroke="#000" stroke-width="1.8" stroke-linejoin="round"/>
<path d="M228.3,182.1 C229.3,182.2 237.1,183.4 238.4,183.0 C239.7,182.6 241.1,182.4 241.7,178.1 C242.2,173.8 243.5,149.6 243.9,140.2 C244.3,130.8 245.8,93.2 246.2,84.5 C246.6,75.8 247.6,52.9 247.9,52.9 C248.2,52.9 249.2,76.4 249.5,84.5 C249.8,92.6 250.9,125.9 251.3,133.5 C251.8,141.1 253.3,156.5 254.0,160.3 C254.7,164.1 256.8,169.6 258.4,171.4 C259.9,173.2 267.3,177.0 269.5,178.1 C271.7,179.2 278.9,182.2 280.7,182.5 C282.5,182.8 286.1,183.2 287.4,181.4 C288.7,179.6 292.7,171.0 294.0,164.7 C295.3,158.4 299.9,124.7 300.7,118.0 C301.5,111.3 301.6,101.3 302.2,97.9 C302.8,94.5 305.4,84.1 306.2,84.1 C307.0,84.1 309.3,94.1 310.0,97.9 C310.7,101.7 312.6,116.8 313.4,122.4 C314.2,128.0 316.9,148.1 317.8,153.6 C318.7,159.1 321.3,174.4 322.3,177.0 C323.3,179.6 326.7,179.5 327.8,179.9 C328.9,180.3 331.7,181.1 333.4,181.4 C335.1,181.7 339.9,182.4 344.5,182.5 C349.1,182.6 375.6,182.1 379.0,182.1" fill="none" stroke="#e2001a" stroke-width="2" stroke-linejoin="round"/>
<path d="M224.2,183.3 H227.7 M225.7,166.3 H227.7 M224.2,149.4 H227.7 M225.7,132.4 H227.7 M224.2,115.4 H227.7 M225.7,98.4 H227.7 M224.2,81.5 H227.7 M225.7,64.5 H227.7 M224.2,47.5 H227.7 M227.7,183.3 V186.8 M240.3,183.3 V185.3 M252.9,183.3 V186.8 M265.6,183.3 V185.3 M278.2,183.3 V186.8 M290.8,183.3 V185.3 M303.4,183.3 V186.8 M316.0,183.3 V185.3 M328.6,183.3 V186.8 M341.2,183.3 V185.3 M353.9,183.3 V186.8 M366.5,183.3 V185.3 M379.1,183.3 V186.8 " stroke="#000" stroke-width="1.3"/>
<g font-size="11.3" fill="#000">
<text x="222" y="187.3" text-anchor="end" transform="translate(222,0) scale(1.0,1) translate(-222,0)">0.0000</text>
<text x="222" y="153.4" text-anchor="end" transform="translate(222,0) scale(1.0,1) translate(-222,0)">0.0004</text>
<text x="222" y="119.4" text-anchor="end" transform="translate(222,0) scale(1.0,1) translate(-222,0)">0.0008</text>
<text x="222" y="85.5" text-anchor="end" transform="translate(222,0) scale(1.0,1) translate(-222,0)">0.0012</text>
<text x="222" y="51.5" text-anchor="end" transform="translate(222,0) scale(1.0,1) translate(-222,0)">0.0016</text>
<text x="227.7" y="201.3" text-anchor="middle">700</text>
<text x="252.9" y="201.3" text-anchor="middle">720</text>
<text x="278.2" y="201.3" text-anchor="middle">740</text>
<text x="303.4" y="201.3" text-anchor="middle">760</text>
<text x="328.6" y="201.3" text-anchor="middle">780</text>
<text x="353.9" y="201.3" text-anchor="middle">800</text>
<text x="379.1" y="201.3" text-anchor="middle">820</text>
<text x="303.8" y="216.8" text-anchor="middle" font-size="12.3">Wavelength (nm)</text>
<text transform="translate(179,114.6) rotate(-90)" text-anchor="middle" font-size="11.6">Transmission</text>
<path d="M270.7,59 H283.4" stroke="#000" stroke-width="1.8"/>
<path d="M270.7,71.6 H283.4" stroke="#e2001a" stroke-width="2"/>
<text x="285.2" y="62.8" font-size="12">RCP</text>
<text x="333.2" y="62.8" font-size="12">LCP</text>
<text x="285.8" y="75.8" font-size="12">LCP</text>
<text x="334.4" y="75.8" font-size="12">RCP</text>
</g>
<path d="M313.2,59.2 H325 M311.8,72.2 H325" stroke="#000" stroke-width="1.5"/>
<path d="M324,55.6 L331.3,59.2 L324,62.8 Z M324,68.6 L331.3,72.2 L324,75.8 Z" fill="#000"/>
</g>
<rect x="852.5" y="40" width="558.5" height="41.5" fill="url(#cbar)" stroke="#000" stroke-width="2.4"/>
<g font-size="28" fill="#000">
<text x="850" y="24.8" font-size="28.8">0.0</text>
<text x="1110" y="26.8" font-size="28.8">3.0</text>
<text x="1370" y="25.7" font-size="28.8">6.0</text>
</g><g clip-path="url(#clipC)"><g filter="url(#cmap)">
<rect x="828.0" y="87.5" width="305.0" height="282.5" rx="0.0" fill="#0d0d0d"/>
<g filter="url(#b30)"><ellipse cx="980.0" cy="228.0" rx="175.0" ry="160.0" fill="#1f1f1f" transform="rotate(0.0 980.0 228.0)"/></g>
<g filter="url(#b20)"><ellipse cx="980.0" cy="228.0" rx="150.0" ry="140.0" fill="#333333" transform="rotate(0.0 980.0 228.0)"/></g>
<g filter="url(#b10)"><rect x="918.0" y="170.0" width="124.0" height="115.0" rx="40.0" fill="#545454"/></g>
<g filter="url(#b8)"><polygon points="893.0,100.0 925.0,100.0 936.0,170.0 942.0,255.0 880.0,255.0 866.0,170.0" fill="#525252"/></g>
<g filter="url(#b8)"><polygon points="960.0,128.0 1040.0,135.0 1100.0,150.0 1100.0,182.0 1040.0,195.0 960.0,205.0" fill="#525252"/></g>
<g filter="url(#b8)"><polygon points="1015.0,205.0 1090.0,215.0 1080.0,280.0 1065.0,350.0 1035.0,350.0 1018.0,280.0" fill="#525252"/></g>
<g filter="url(#b8)"><polygon points="990.0,252.0 920.0,262.0 850.0,272.0 850.0,305.0 920.0,322.0 990.0,330.0" fill="#525252"/></g>
<g filter="url(#b12)"><ellipse cx="985.0" cy="228.0" rx="42.0" ry="40.0" fill="#5e5e5e" transform="rotate(0.0 985.0 228.0)"/></g>
<g filter="url(#b3)"><polygon points="910.0,104.0 919.0,104.0 928.0,180.0 931.0,244.0 897.0,244.0 903.0,180.0" fill="#808080"/></g>
<g filter="url(#b3)"><polygon points="970.0,153.0 1020.0,156.0 1100.0,165.0 1100.0,170.0 1020.0,178.0 970.0,183.0" fill="#808080"/></g>
<g filter="url(#b3)"><polygon points="1031.0,216.0 1061.0,216.0 1058.0,280.0 1049.0,344.0 1044.0,344.0 1035.0,280.0" fill="#808080"/></g>
<g filter="url(#b3)"><polygon points="995.0,275.0 930.0,278.0 846.0,285.0 846.0,292.0 930.0,300.0 995.0,303.0" fill="#808080"/></g>
<g filter="url(#b2_5)"><polygon points="912.0,104.0 917.0,104.0 925.0,180.0 927.0,240.0 901.0,240.0 905.0,180.0" fill="#a3a3a3"/></g>
<g filter="url(#b2_5)"><polygon points="972.0,156.0 1020.0,159.0 1098.0,166.0 1098.0,169.0 1020.0,176.0 972.0,181.0" fill="#a3a3a3"/></g>
<g filter="url(#b2_5)"><polygon points="1034.0,218.0 1058.0,218.0 1055.0,280.0 1048.0,342.0 1045.0,342.0 1038.0,280.0" fill="#a3a3a3"/></g>
<g filter="url(#b2_5)"><polygon points="993.0,277.0 930.0,281.0 848.0,286.0 848.0,291.0 930.0,298.0 993.0,301.0" fill="#a3a3a3"/></g>
<g filter="url(#b1_5)"><polygon points="912.0,145.0 916.0,145.0 920.0,200.0 921.0,236.0 907.0,236.0 909.0,200.0" fill="#dedede"/></g>
<g filter="url(#b1_5)"><polygon points="974.0,162.0 1075.0,166.0 1075.0,169.0 974.0,176.0" fill="#dedede"/></g>
<g filter="url(#b1_5)"><polygon points="1039.0,222.0 1053.0,222.0 1049.0,300.0 1045.0,300.0" fill="#dedede"/></g>
<g filter="url(#b1_5)"><polygon points="990.0,283.0 918.0,286.0 918.0,293.0 990.0,296.0" fill="#dedede"/></g>
<g filter="url(#b1_5)"><ellipse cx="915.0" cy="222.0" rx="6.0" ry="15.0" fill="#ffffff" transform="rotate(0.0 915.0 222.0)"/></g>
<g filter="url(#b1_5)"><ellipse cx="987.0" cy="170.0" rx="13.0" ry="6.0" fill="#ffffff" transform="rotate(0.0 987.0 170.0)"/></g>
<g filter="url(#b1_5)"><ellipse cx="1045.0" cy="236.0" rx="6.0" ry="15.0" fill="#ffffff" transform="rotate(0.0 1045.0 236.0)"/></g>
<g filter="url(#b1_5)"><ellipse cx="966.0" cy="291.0" rx="20.0" ry="5.0" fill="#ffffff" transform="rotate(0.0 966.0 291.0)"/></g>
<g filter="url(#b1)"><path d="M914.0,150.0 L914.0,232.0" fill="none" stroke="#f2f2f2" stroke-width="3.0" stroke-linecap="round" stroke-linejoin="round"/></g>
<g filter="url(#b1)"><path d="M982.0,167.0 L1065.0,167.0" fill="none" stroke="#f2f2f2" stroke-width="3.0" stroke-linecap="round" stroke-linejoin="round"/></g>
<g filter="url(#b1)"><path d="M1046.0,225.0 L1046.0,292.0" fill="none" stroke="#f2f2f2" stroke-width="3.0" stroke-linecap="round" stroke-linejoin="round"/></g>
<g filter="url(#b1)"><path d="M925.0,289.0 L980.0,289.0" fill="none" stroke="#f2f2f2" stroke-width="3.0" stroke-linecap="round" stroke-linejoin="round"/></g>
</g></g>
<g clip-path="url(#clipD)"><g filter="url(#cmap)">
<rect x="1141.0" y="87.5" width="307.0" height="282.5" rx="0.0" fill="#0d0d0d"/>
<g filter="url(#b30)"><ellipse cx="1294.0" cy="228.0" rx="150.0" ry="140.0" fill="#2b2b2b" transform="rotate(0.0 1294.0 228.0)"/></g>
<g filter="url(#b8)"><ellipse cx="1295.0" cy="166.0" rx="24.0" ry="24.0" fill="#3d3d3d" transform="rotate(0.0 1295.0 166.0)"/></g><g filter="url(#b6)"><polygon points="1304.2,166.0 1269.7,166.0 1295.0,97.2" fill="#5e5e5e"/></g><g filter="url(#b6)"><polygon points="1295.0,175.2 1295.0,138.4 1385.0,166.0" fill="#5e5e5e"/></g><g filter="url(#b3)"><polygon points="1299.4,166.0 1282.9,166.0 1295.0,122.0" fill="#6b6b6b"/></g><g filter="url(#b3)"><polygon points="1295.0,170.4 1295.0,152.8 1352.6,166.0" fill="#6b6b6b"/></g><g filter="url(#b2)"><polygon points="1298.2,166.0 1286.2,166.0 1295.0,138.5" fill="#a1a1a1"/></g><g filter="url(#b2)"><polygon points="1295.0,169.2 1295.0,156.4 1331.0,166.0" fill="#a1a1a1"/></g><g filter="url(#b3)"><ellipse cx="1295.0" cy="166.0" rx="10.0" ry="11.0" fill="#a1a1a1" transform="rotate(0.0 1295.0 166.0)"/></g><g filter="url(#b2)"><ellipse cx="1295.0" cy="166.0" rx="8.0" ry="9.0" fill="#e0e0e0" transform="rotate(0.0 1295.0 166.0)"/></g><g filter="url(#b1_5)"><ellipse cx="1295.0" cy="166.0" rx="6.0" ry="7.0" fill="#ffffff" transform="rotate(0.0 1295.0 166.0)"/></g>
<g filter="url(#b8)"><ellipse cx="1229.0" cy="227.0" rx="24.0" ry="24.0" fill="#3d3d3d" transform="rotate(0.0 1229.0 227.0)"/></g><g filter="url(#b6)"><polygon points="1229.0,199.4 1229.0,237.3 1159.0,227.0" fill="#5e5e5e"/></g><g filter="url(#b6)"><polygon points="1254.3,227.0 1219.8,227.0 1229.0,149.5" fill="#5e5e5e"/></g><g filter="url(#b3)"><polygon points="1229.0,213.8 1229.0,231.9 1184.2,227.0" fill="#6b6b6b"/></g><g filter="url(#b3)"><polygon points="1241.1,227.0 1224.6,227.0 1229.0,177.4" fill="#6b6b6b"/></g><g filter="url(#b2)"><polygon points="1229.0,217.4 1229.0,230.6 1201.0,227.0" fill="#a1a1a1"/></g><g filter="url(#b2)"><polygon points="1237.8,227.0 1225.8,227.0 1229.0,196.0" fill="#a1a1a1"/></g><g filter="url(#b3)"><ellipse cx="1229.0" cy="227.0" rx="10.0" ry="11.0" fill="#a1a1a1" transform="rotate(0.0 1229.0 227.0)"/></g><g filter="url(#b2)"><ellipse cx="1229.0" cy="227.0" rx="8.0" ry="9.0" fill="#e0e0e0" transform="rotate(0.0 1229.0 227.0)"/></g><g filter="url(#b1_5)"><ellipse cx="1229.0" cy="227.0" rx="6.0" ry="7.0" fill="#ffffff" transform="rotate(0.0 1229.0 227.0)"/></g>
<g filter="url(#b8)"><ellipse cx="1358.0" cy="229.0" rx="24.0" ry="24.0" fill="#3d3d3d" transform="rotate(0.0 1358.0 229.0)"/></g><g filter="url(#b6)"><polygon points="1358.0,245.1 1358.0,212.9 1438.0,229.0" fill="#5e5e5e"/></g><g filter="url(#b6)"><polygon points="1335.0,229.0 1371.8,229.0 1358.0,311.5" fill="#5e5e5e"/></g><g filter="url(#b3)"><polygon points="1358.0,236.7 1358.0,221.3 1409.2,229.0" fill="#6b6b6b"/></g><g filter="url(#b3)"><polygon points="1347.0,229.0 1364.6,229.0 1358.0,281.8" fill="#6b6b6b"/></g><g filter="url(#b2)"><polygon points="1358.0,234.6 1358.0,223.4 1390.0,229.0" fill="#a1a1a1"/></g><g filter="url(#b2)"><polygon points="1350.0,229.0 1362.8,229.0 1358.0,262.0" fill="#a1a1a1"/></g><g filter="url(#b3)"><ellipse cx="1358.0" cy="229.0" rx="10.0" ry="11.0" fill="#a1a1a1" transform="rotate(0.0 1358.0 229.0)"/></g><g filter="url(#b2)"><ellipse cx="1358.0" cy="229.0" rx="8.0" ry="9.0" fill="#e0e0e0" transform="rotate(0.0 1358.0 229.0)"/></g><g filter="url(#b1_5)"><ellipse cx="1358.0" cy="229.0" rx="6.0" ry="7.0" fill="#ffffff" transform="rotate(0.0 1358.0 229.0)"/></g>
<g filter="url(#b8)"><ellipse cx="1294.0" cy="289.0" rx="24.0" ry="24.0" fill="#3d3d3d" transform="rotate(0.0 1294.0 289.0)"/></g><g filter="url(#b6)"><polygon points="1277.9,289.0 1305.5,289.0 1294.0,354.0" fill="#5e5e5e"/></g><g filter="url(#b6)"><polygon points="1294.0,263.7 1294.0,300.5 1206.5,289.0" fill="#5e5e5e"/></g><g filter="url(#b3)"><polygon points="1286.3,289.0 1299.5,289.0 1294.0,330.6" fill="#6b6b6b"/></g><g filter="url(#b3)"><polygon points="1294.0,276.9 1294.0,294.5 1238.0,289.0" fill="#6b6b6b"/></g><g filter="url(#b2)"><polygon points="1288.4,289.0 1298.0,289.0 1294.0,315.0" fill="#a1a1a1"/></g><g filter="url(#b2)"><polygon points="1294.0,280.2 1294.0,293.0 1259.0,289.0" fill="#a1a1a1"/></g><g filter="url(#b3)"><ellipse cx="1294.0" cy="289.0" rx="10.0" ry="11.0" fill="#a1a1a1" transform="rotate(0.0 1294.0 289.0)"/></g><g filter="url(#b2)"><ellipse cx="1294.0" cy="289.0" rx="8.0" ry="9.0" fill="#e0e0e0" transform="rotate(0.0 1294.0 289.0)"/></g><g filter="url(#b1_5)"><ellipse cx="1294.0" cy="289.0" rx="6.0" ry="7.0" fill="#ffffff" transform="rotate(0.0 1294.0 289.0)"/></g>
</g></g>
<g clip-path="url(#clipE)"><g filter="url(#cmap)"><rect x="820.0" y="370.0" width="320.0" height="300.0" rx="0.0" fill="#171717"/><g filter="url(#b15)"><polygon points="959.3,436.3 992.7,382.1 1050.0,413.5 1016.6,467.7 1073.9,499.1 1131.2,530.5 1097.8,584.7 1040.5,553.3 1007.1,607.5 973.7,661.7 916.4,630.3 949.8,576.1 892.5,544.7 835.2,513.3 868.6,459.1 925.9,490.5" fill="#303030" stroke="#303030" stroke-width="54" stroke-linejoin="round"/></g><g filter="url(#b4)"><polygon points="959.3,436.3 992.7,382.1 1050.0,413.5 1016.6,467.7 1073.9,499.1 1131.2,530.5 1097.8,584.7 1040.5,553.3 1007.1,607.5 973.7,661.7 916.4,630.3 949.8,576.1 892.5,544.7 835.2,513.3 868.6,459.1 925.9,490.5" fill="#525252" stroke="#525252" stroke-width="18" stroke-linejoin="round"/></g><g filter="url(#b7)"><polygon points="1051.5,478.2 1048.7,481.9 1045.3,485.1 1041.3,487.8 1036.9,489.7 1032.2,490.9 1027.4,491.3 1022.5,490.9 1017.8,489.7 1013.5,487.7 1009.5,485.1 1006.1,481.8 1003.3,478.1 1001.3,473.9 1000.0,469.5 999.6,464.9 1000.1,460.4 1001.3,455.9 1003.4,451.8 1006.2,448.0 1009.7,444.8 1013.7,442.2 1018.1,440.2 1022.8,439.0 1027.6,438.7 1032.4,439.1 1037.1,440.3 1041.5,442.2 1045.5,444.8 1048.9,448.1 1051.7,451.8 1053.7,456.0 1054.9,460.4 1055.3,465.0 1054.9,469.6 1053.6,474.0" fill="#545454"/></g><g filter="url(#b7)"><polygon points="1067.4,576.8 1064.6,580.5 1061.2,583.8 1057.2,586.4 1052.8,588.3 1048.1,589.5 1043.3,589.9 1038.4,589.5 1033.7,588.3 1029.3,586.3 1025.4,583.7 1022.0,580.5 1019.2,576.7 1017.2,572.5 1015.9,568.1 1015.5,563.5 1016.0,559.0 1017.2,554.5 1019.3,550.4 1022.1,546.6 1025.6,543.4 1029.5,540.8 1033.9,538.8 1038.6,537.7 1043.5,537.3 1048.3,537.7 1053.0,538.9 1057.4,540.8 1061.4,543.4 1064.8,546.7 1067.5,550.5 1069.6,554.6 1070.8,559.0 1071.2,563.6 1070.8,568.2 1069.5,572.6" fill="#545454"/></g><g filter="url(#b7)"><polygon points="963.0,592.0 960.2,595.8 956.7,599.0 952.7,601.6 948.3,603.6 943.6,604.8 938.8,605.1 934.0,604.7 929.3,603.5 924.9,601.6 920.9,599.0 917.5,595.7 914.7,592.0 912.7,587.8 911.5,583.4 911.1,578.8 911.5,574.2 912.8,569.8 914.9,565.6 917.7,561.9 921.1,558.7 925.1,556.0 929.5,554.1 934.2,552.9 939.0,552.5 943.9,552.9 948.6,554.1 952.9,556.1 956.9,558.7 960.3,562.0 963.1,565.7 965.1,569.9 966.4,574.3 966.8,578.9 966.3,583.4 965.1,587.9" fill="#545454"/></g><g filter="url(#b7)"><polygon points="947.1,493.4 944.3,497.2 940.8,500.4 936.9,503.0 932.5,505.0 927.8,506.1 922.9,506.5 918.1,506.1 913.4,504.9 909.0,503.0 905.0,500.4 901.6,497.1 898.9,493.3 896.8,489.2 895.6,484.8 895.2,480.2 895.6,475.6 896.9,471.2 899.0,467.0 901.8,463.3 905.2,460.0 909.2,457.4 913.6,455.5 918.3,454.3 923.1,453.9 928.0,454.3 932.7,455.5 937.1,457.5 941.0,460.1 944.4,463.3 947.2,467.1 949.2,471.3 950.5,475.7 950.9,480.3 950.4,484.8 949.2,489.3" fill="#545454"/></g><clipPath id="xclipE"><polygon points="959.3,436.3 992.7,382.1 1050.0,413.5 1016.6,467.7 1073.9,499.1 1131.2,530.5 1097.8,584.7 1040.5,553.3 1007.1,607.5 973.7,661.7 916.4,630.3 949.8,576.1 892.5,544.7 835.2,513.3 868.6,459.1 925.9,490.5"/></clipPath><polygon points="959.3,436.3 992.7,382.1 1050.0,413.5 1016.6,467.7 1073.9,499.1 1131.2,530.5 1097.8,584.7 1040.5,553.3 1007.1,607.5 973.7,661.7 916.4,630.3 949.8,576.1 892.5,544.7 835.2,513.3 868.6,459.1 925.9,490.5" fill="#fafafa"/><g clip-path="url(#xclipE)"><g filter="url(#b5)"><polygon points="996.0,376.7 1053.3,408.1 992.0,457.8 980.6,451.6" fill="#dbdbdb"/></g><g filter="url(#b3)"><polygon points="993.2,375.1 1056.2,409.6 1023.9,421.0 1000.6,431.4 998.7,407.2" fill="#a8a8a8"/></g><g filter="url(#b3)"><polygon points="998.9,378.2 1050.5,406.5 1024.9,410.6 1011.3,414.1 1007.7,401.2" fill="#878787"/></g><g filter="url(#b5)"><polygon points="1136.9,533.6 1103.5,587.8 1051.0,530.0 1057.7,519.2" fill="#dbdbdb"/></g><g filter="url(#b3)"><polygon points="1138.6,530.9 1101.9,590.5 1090.0,560.1 1079.0,538.1 1104.7,536.3" fill="#a8a8a8"/></g><g filter="url(#b3)"><polygon points="1135.3,536.4 1105.2,585.1 1100.9,561.0 1097.3,548.2 1110.9,544.8" fill="#878787"/></g><g filter="url(#b5)"><polygon points="913.1,635.7 970.4,667.1 985.9,592.2 974.4,585.9" fill="#dbdbdb"/></g><g filter="url(#b3)"><polygon points="910.2,634.1 973.2,668.7 967.7,636.6 965.8,612.4 942.5,622.8" fill="#a8a8a8"/></g><g filter="url(#b3)"><polygon points="915.9,637.3 967.5,665.5 958.7,642.6 955.1,629.7 941.5,633.2" fill="#878787"/></g><g filter="url(#b5)"><polygon points="862.9,456.0 829.5,510.2 908.7,524.6 915.4,513.8" fill="#dbdbdb"/></g><g filter="url(#b3)"><polygon points="864.5,453.2 827.8,512.9 861.7,507.5 887.4,505.7 876.4,483.7" fill="#a8a8a8"/></g><g filter="url(#b3)"><polygon points="861.2,458.7 831.1,507.4 855.5,499.0 869.1,495.6 865.5,482.8" fill="#878787"/></g><g filter="url(#b3)"><polygon points="960.0,438.9 1071.2,499.8 1006.4,604.9 895.2,544.0" fill="#d6d6d6"/></g><g filter="url(#b4)"><polygon points="962.6,448.3 1061.2,502.3 1003.8,595.5 905.2,541.5" fill="#a3a3a3"/></g><g filter="url(#b6)"><polygon points="967.4,465.4 1043.1,506.9 999.0,578.4 923.3,536.9" fill="#7a7a7a"/></g><g filter="url(#b6)"><polygon points="969.8,474.0 1034.0,509.1 996.6,569.8 932.4,534.7" fill="#575757"/></g><g filter="url(#b8)"><polygon points="1009.0,536.0 1006.0,540.1 1002.3,543.5 998.0,546.3 993.3,548.4 988.3,549.7 983.1,550.1 977.9,549.7 972.9,548.4 968.2,546.3 963.9,543.5 960.3,540.0 957.3,536.0 955.1,531.5 953.8,526.8 953.4,521.9 953.8,517.0 955.2,512.2 957.4,507.8 960.4,503.7 964.1,500.3 968.4,497.5 973.1,495.4 978.1,494.1 983.3,493.7 988.5,494.1 993.5,495.4 998.2,497.5 1002.5,500.3 1006.1,503.8 1009.1,507.8 1011.3,512.3 1012.6,517.0 1013.0,521.9 1012.6,526.8 1011.2,531.6" fill="#545454"/></g><g filter="url(#b5)"><polygon points="991.2,526.3 990.3,527.5 989.1,528.6 987.8,529.5 986.3,530.1 984.8,530.5 983.2,530.7 981.5,530.5 980.0,530.1 978.5,529.5 977.2,528.6 976.1,527.5 975.1,526.3 974.5,524.9 974.0,523.4 973.9,521.9 974.1,520.4 974.5,518.9 975.2,517.5 976.1,516.3 977.3,515.2 978.6,514.3 980.1,513.7 981.6,513.3 983.2,513.1 984.9,513.3 986.4,513.7 987.9,514.3 989.2,515.2 990.3,516.3 991.3,517.5 991.9,518.9 992.4,520.4 992.5,521.9 992.3,523.4 991.9,524.9" fill="#424242"/></g><g filter="url(#b3)"><polygon points="1031.0,479.2 1029.1,481.7 1026.8,483.9 1024.1,485.6 1021.2,486.9 1018.1,487.7 1014.9,487.9 1011.6,487.7 1008.5,486.9 1005.6,485.6 1002.9,483.8 1000.7,481.7 998.8,479.2 997.5,476.4 996.6,473.4 996.4,470.4 996.7,467.3 997.5,464.4 998.9,461.6 1000.8,459.1 1003.1,457.0 1005.7,455.2 1008.7,453.9 1011.8,453.1 1015.0,452.9 1018.2,453.1 1021.4,453.9 1024.3,455.2 1026.9,457.0 1029.2,459.2 1031.1,461.7 1032.4,464.4 1033.2,467.4 1033.5,470.4 1033.2,473.5 1032.4,476.4" fill="#fafafa"/></g><g filter="url(#b3)"><polygon points="1053.7,560.5 1051.8,563.0 1049.5,565.2 1046.9,566.9 1043.9,568.2 1040.8,569.0 1037.6,569.3 1034.3,569.0 1031.2,568.2 1028.3,566.9 1025.6,565.1 1023.4,563.0 1021.5,560.5 1020.2,557.7 1019.3,554.7 1019.1,551.7 1019.4,548.7 1020.2,545.7 1021.6,542.9 1023.5,540.4 1025.8,538.3 1028.4,536.5 1031.4,535.2 1034.5,534.5 1037.7,534.2 1040.9,534.5 1044.1,535.3 1047.0,536.6 1049.6,538.3 1051.9,540.5 1053.8,543.0 1055.1,545.8 1055.9,548.7 1056.2,551.8 1055.9,554.8 1055.1,557.8" fill="#fafafa"/></g><g filter="url(#b3)"><polygon points="967.5,582.2 965.6,584.7 963.3,586.8 960.7,588.6 957.7,589.9 954.6,590.7 951.4,590.9 948.2,590.7 945.0,589.9 942.1,588.6 939.5,586.8 937.2,584.6 935.3,582.1 934.0,579.4 933.2,576.4 932.9,573.4 933.2,570.3 934.0,567.4 935.4,564.6 937.3,562.1 939.6,559.9 942.3,558.2 945.2,556.9 948.3,556.1 951.5,555.9 954.8,556.1 957.9,556.9 960.8,558.2 963.5,560.0 965.7,562.1 967.6,564.6 968.9,567.4 969.8,570.4 970.0,573.4 969.7,576.5 968.9,579.4" fill="#fafafa"/></g><g filter="url(#b3)"><polygon points="944.8,500.9 942.9,503.4 940.6,505.5 938.0,507.3 935.0,508.6 931.9,509.3 928.7,509.6 925.5,509.3 922.3,508.5 919.4,507.2 916.8,505.5 914.5,503.3 912.6,500.8 911.3,498.0 910.5,495.1 910.2,492.0 910.5,489.0 911.3,486.0 912.7,483.3 914.6,480.8 916.9,478.6 919.5,476.9 922.5,475.6 925.6,474.8 928.8,474.5 932.1,474.8 935.2,475.6 938.1,476.9 940.8,478.7 943.0,480.8 944.9,483.3 946.2,486.1 947.1,489.1 947.3,492.1 947.0,495.1 946.2,498.1" fill="#fafafa"/></g></g></g></g><polygon points="959.3,436.3 992.7,382.1 1050.0,413.5 1016.6,467.7 1073.9,499.1 1131.2,530.5 1097.8,584.7 1040.5,553.3 1007.1,607.5 973.7,661.7 916.4,630.3 949.8,576.1 892.5,544.7 835.2,513.3 868.6,459.1 925.9,490.5" fill="none" stroke="#14142a" stroke-width="1.3"/><path d="M959.3,436.3 L1073.9,499.1 M1073.9,499.1 L1007.1,607.5 M1007.1,607.5 L892.5,544.7 M892.5,544.7 L959.3,436.3 " stroke="#14142a" stroke-width="1.1"/>
<g clip-path="url(#clipF)"><g filter="url(#cmap)"><rect x="1130.5" y="370.0" width="320.0" height="300.0" rx="0.0" fill="#171717"/><g filter="url(#b15)"><polygon points="1269.8,435.3 1303.2,381.1 1360.5,412.5 1327.1,466.7 1384.4,498.1 1441.7,529.5 1408.3,583.7 1351.0,552.3 1317.6,606.5 1284.2,660.7 1226.9,629.3 1260.3,575.1 1203.0,543.7 1145.7,512.3 1179.1,458.1 1236.4,489.5" fill="#303030" stroke="#303030" stroke-width="54" stroke-linejoin="round"/></g><g filter="url(#b4)"><polygon points="1269.8,435.3 1303.2,381.1 1360.5,412.5 1327.1,466.7 1384.4,498.1 1441.7,529.5 1408.3,583.7 1351.0,552.3 1317.6,606.5 1284.2,660.7 1226.9,629.3 1260.3,575.1 1203.0,543.7 1145.7,512.3 1179.1,458.1 1236.4,489.5" fill="#525252" stroke="#525252" stroke-width="18" stroke-linejoin="round"/></g><g filter="url(#b7)"><polygon points="1362.0,477.2 1359.2,480.9 1355.8,484.1 1351.8,486.8 1347.4,488.7 1342.7,489.9 1337.9,490.3 1333.0,489.9 1328.3,488.7 1324.0,486.7 1320.0,484.1 1316.6,480.8 1313.8,477.1 1311.8,472.9 1310.5,468.5 1310.1,463.9 1310.6,459.4 1311.8,454.9 1313.9,450.8 1316.7,447.0 1320.2,443.8 1324.2,441.2 1328.6,439.2 1333.3,438.0 1338.1,437.7 1342.9,438.1 1347.6,439.3 1352.0,441.2 1356.0,443.8 1359.4,447.1 1362.2,450.8 1364.2,455.0 1365.4,459.4 1365.8,464.0 1365.4,468.6 1364.1,473.0" fill="#545454"/></g><g filter="url(#b7)"><polygon points="1377.9,575.8 1375.1,579.5 1371.7,582.8 1367.7,585.4 1363.3,587.3 1358.6,588.5 1353.8,588.9 1348.9,588.5 1344.2,587.3 1339.8,585.3 1335.9,582.7 1332.5,579.5 1329.7,575.7 1327.7,571.5 1326.4,567.1 1326.0,562.5 1326.5,558.0 1327.7,553.5 1329.8,549.4 1332.6,545.6 1336.1,542.4 1340.0,539.8 1344.4,537.8 1349.1,536.7 1354.0,536.3 1358.8,536.7 1363.5,537.9 1367.9,539.8 1371.9,542.4 1375.3,545.7 1378.0,549.5 1380.1,553.6 1381.3,558.0 1381.7,562.6 1381.3,567.2 1380.0,571.6" fill="#545454"/></g><g filter="url(#b7)"><polygon points="1273.5,591.0 1270.7,594.8 1267.2,598.0 1263.2,600.6 1258.8,602.6 1254.1,603.8 1249.3,604.1 1244.5,603.7 1239.8,602.5 1235.4,600.6 1231.4,598.0 1228.0,594.7 1225.2,591.0 1223.2,586.8 1222.0,582.4 1221.6,577.8 1222.0,573.2 1223.3,568.8 1225.3,564.6 1228.2,560.9 1231.6,557.7 1235.6,555.0 1240.0,553.1 1244.7,551.9 1249.5,551.5 1254.4,551.9 1259.1,553.1 1263.4,555.1 1267.4,557.7 1270.8,561.0 1273.6,564.7 1275.6,568.9 1276.9,573.3 1277.3,577.9 1276.8,582.4 1275.6,586.9" fill="#545454"/></g><g filter="url(#b7)"><polygon points="1257.6,492.4 1254.8,496.2 1251.3,499.4 1247.4,502.0 1243.0,504.0 1238.3,505.1 1233.4,505.5 1228.6,505.1 1223.9,503.9 1219.5,502.0 1215.5,499.4 1212.1,496.1 1209.4,492.3 1207.3,488.2 1206.1,483.8 1205.7,479.2 1206.1,474.6 1207.4,470.2 1209.5,466.0 1212.3,462.3 1215.7,459.0 1219.7,456.4 1224.1,454.5 1228.8,453.3 1233.6,452.9 1238.5,453.3 1243.2,454.5 1247.6,456.5 1251.5,459.1 1254.9,462.3 1257.7,466.1 1259.7,470.3 1261.0,474.7 1261.4,479.3 1260.9,483.8 1259.7,488.3" fill="#545454"/></g><clipPath id="xclipF"><polygon points="1269.8,435.3 1303.2,381.1 1360.5,412.5 1327.1,466.7 1384.4,498.1 1441.7,529.5 1408.3,583.7 1351.0,552.3 1317.6,606.5 1284.2,660.7 1226.9,629.3 1260.3,575.1 1203.0,543.7 1145.7,512.3 1179.1,458.1 1236.4,489.5"/></clipPath><polygon points="1269.8,435.3 1303.2,381.1 1360.5,412.5 1327.1,466.7 1384.4,498.1 1441.7,529.5 1408.3,583.7 1351.0,552.3 1317.6,606.5 1284.2,660.7 1226.9,629.3 1260.3,575.1 1203.0,543.7 1145.7,512.3 1179.1,458.1 1236.4,489.5" fill="#fafafa"/><g clip-path="url(#xclipF)"><g filter="url(#b2)"><polygon points="1306.5,375.7 1363.8,407.1 1332.4,440.6 1312.3,465.8 1277.9,447.0 1291.2,418.0" fill="#d6d6d6"/></g><g filter="url(#b3)"><polygon points="1310.0,377.6 1360.4,405.2 1327.9,438.1 1303.2,468.1 1280.3,455.6 1295.8,420.5" fill="#9e9e9e"/></g><g filter="url(#b4)"><polygon points="1311.1,378.2 1359.3,404.6 1328.8,424.1 1308.2,412.8" fill="#808080"/></g><g filter="url(#b3)"><polygon points="1316.9,381.3 1353.5,401.4 1326.8,404.9" fill="#666666"/></g><g filter="url(#b2)"><polygon points="1447.4,532.6 1414.0,586.8 1378.6,557.3 1352.0,538.3 1372.0,505.8 1402.6,518.2" fill="#d6d6d6"/></g><g filter="url(#b3)"><polygon points="1445.4,535.9 1416.0,583.6 1381.3,552.9 1349.6,529.8 1362.9,508.1 1400.0,522.6" fill="#9e9e9e"/></g><g filter="url(#b4)"><polygon points="1444.8,537.0 1416.7,582.5 1396.1,553.8 1408.1,534.3" fill="#808080"/></g><g filter="url(#b3)"><polygon points="1441.4,542.4 1420.0,577.1 1416.4,551.9" fill="#666666"/></g><g filter="url(#b2)"><polygon points="1223.6,634.7 1280.9,666.1 1296.2,623.8 1309.5,594.8 1275.1,576.0 1255.0,601.2" fill="#d6d6d6"/></g><g filter="url(#b3)"><polygon points="1227.0,636.6 1277.4,664.2 1291.6,621.3 1307.1,586.2 1284.2,573.7 1259.5,603.7" fill="#9e9e9e"/></g><g filter="url(#b4)"><polygon points="1228.1,637.2 1276.3,663.6 1279.2,629.0 1258.6,617.7" fill="#808080"/></g><g filter="url(#b3)"><polygon points="1233.9,640.4 1270.5,660.5 1260.6,636.9" fill="#666666"/></g><g filter="url(#b2)"><polygon points="1173.4,455.0 1140.0,509.2 1184.8,523.6 1215.4,536.0 1235.5,503.5 1208.8,484.5" fill="#d6d6d6"/></g><g filter="url(#b3)"><polygon points="1171.4,458.2 1142.0,505.9 1187.4,519.2 1224.5,533.7 1237.8,512.0 1206.1,488.9" fill="#9e9e9e"/></g><g filter="url(#b4)"><polygon points="1170.7,459.3 1142.6,504.8 1179.3,507.5 1191.3,488.0" fill="#808080"/></g><g filter="url(#b3)"><polygon points="1167.4,464.7 1146.0,499.4 1171.0,489.9" fill="#666666"/></g><g filter="url(#b2)"><polygon points="1270.3,437.0 1382.6,498.6 1317.1,604.8 1204.8,543.2" fill="#cccccc"/></g><g filter="url(#b3)"><polygon points="1272.2,443.9 1375.3,500.4 1315.2,597.9 1212.1,541.4" fill="#9e9e9e"/></g><g filter="url(#b4)"><polygon points="1275.5,455.8 1362.6,503.6 1311.9,586.0 1224.8,538.2" fill="#737373"/></g><g filter="url(#b4)"><polygon points="1277.4,462.7 1355.4,505.4 1310.0,579.1 1232.0,536.4" fill="#545454"/></g><g filter="url(#b6)"><polygon points="1325.2,538.2 1321.5,543.1 1317.0,547.3 1311.8,550.8 1306.0,553.3 1299.9,554.8 1293.5,555.4 1287.2,554.8 1281.1,553.3 1275.3,550.7 1270.1,547.3 1265.7,543.0 1262.0,538.1 1259.4,532.6 1257.8,526.8 1257.2,520.8 1257.8,514.9 1259.5,509.1 1262.2,503.6 1265.9,498.7 1270.4,494.5 1275.6,491.0 1281.4,488.5 1287.5,487.0 1293.9,486.4 1300.2,487.0 1306.3,488.5 1312.1,491.1 1317.3,494.5 1321.7,498.8 1325.4,503.7 1328.0,509.2 1329.6,515.0 1330.2,521.0 1329.6,526.9 1327.9,532.7" fill="#3d3d3d"/></g><g filter="url(#b2)"><polygon points="1335.3,473.3 1334.2,474.8 1332.9,476.0 1331.4,477.0 1329.7,477.7 1327.9,478.2 1326.1,478.3 1324.2,478.2 1322.4,477.7 1320.8,477.0 1319.2,476.0 1317.9,474.8 1316.9,473.3 1316.1,471.7 1315.6,470.1 1315.5,468.3 1315.7,466.6 1316.1,464.9 1316.9,463.3 1318.0,461.9 1319.3,460.6 1320.8,459.6 1322.5,458.9 1324.3,458.5 1326.1,458.3 1328.0,458.5 1329.8,458.9 1331.4,459.7 1333.0,460.7 1334.3,461.9 1335.3,463.3 1336.1,464.9 1336.6,466.6 1336.7,468.3 1336.5,470.1 1336.1,471.8" fill="#fafafa"/></g><g filter="url(#b2)"><polygon points="1358.4,556.4 1357.4,557.8 1356.1,559.0 1354.5,560.0 1352.9,560.8 1351.1,561.2 1349.2,561.4 1347.4,561.2 1345.6,560.8 1343.9,560.0 1342.4,559.0 1341.1,557.8 1340.1,556.4 1339.3,554.8 1338.8,553.1 1338.7,551.3 1338.8,549.6 1339.3,547.9 1340.1,546.3 1341.2,544.9 1342.5,543.7 1344.0,542.7 1345.7,541.9 1347.5,541.5 1349.3,541.3 1351.2,541.5 1353.0,541.9 1354.6,542.7 1356.1,543.7 1357.4,544.9 1358.5,546.4 1359.3,547.9 1359.7,549.6 1359.9,551.4 1359.7,553.1 1359.2,554.8" fill="#fafafa"/></g><g filter="url(#b2)"><polygon points="1270.5,578.5 1269.4,579.9 1268.1,581.2 1266.6,582.2 1264.9,582.9 1263.1,583.3 1261.3,583.5 1259.4,583.3 1257.6,582.9 1256.0,582.1 1254.4,581.1 1253.1,579.9 1252.1,578.5 1251.3,576.9 1250.8,575.2 1250.7,573.5 1250.9,571.7 1251.3,570.0 1252.1,568.4 1253.2,567.0 1254.5,565.8 1256.0,564.8 1257.7,564.1 1259.5,563.6 1261.3,563.5 1263.2,563.6 1265.0,564.1 1266.6,564.8 1268.2,565.8 1269.5,567.0 1270.5,568.5 1271.3,570.1 1271.8,571.7 1271.9,573.5 1271.7,575.2 1271.3,576.9" fill="#fafafa"/></g><g filter="url(#b2)"><polygon points="1247.3,495.5 1246.2,496.9 1244.9,498.1 1243.4,499.1 1241.7,499.9 1239.9,500.3 1238.1,500.5 1236.2,500.3 1234.4,499.9 1232.8,499.1 1231.3,498.1 1230.0,496.9 1228.9,495.4 1228.1,493.9 1227.7,492.2 1227.5,490.4 1227.7,488.7 1228.2,487.0 1229.0,485.4 1230.0,484.0 1231.3,482.8 1232.9,481.8 1234.5,481.0 1236.3,480.6 1238.2,480.4 1240.0,480.6 1241.8,481.0 1243.5,481.8 1245.0,482.8 1246.3,484.0 1247.3,485.4 1248.1,487.0 1248.6,488.7 1248.7,490.5 1248.6,492.2 1248.1,493.9" fill="#fafafa"/></g></g></g></g><polygon points="1269.8,435.3 1303.2,381.1 1360.5,412.5 1327.1,466.7 1384.4,498.1 1441.7,529.5 1408.3,583.7 1351.0,552.3 1317.6,606.5 1284.2,660.7 1226.9,629.3 1260.3,575.1 1203.0,543.7 1145.7,512.3 1179.1,458.1 1236.4,489.5" fill="none" stroke="#14142a" stroke-width="1.3"/><path d="M1269.8,435.3 L1384.4,498.1 M1384.4,498.1 L1317.6,606.5 M1317.6,606.5 L1203.0,543.7 M1203.0,543.7 L1269.8,435.3 " stroke="#14142a" stroke-width="1.1"/>
<path d="M914.0,228 V106 H980.0 V167 M914.0,167 H1111.0 V228 H1046.0 M1046.0,167 V349 H980.0 M980.0,349 V288 M1046.0,288 H849.0 V228 H914.0 V288" fill="none" stroke="#15152e" stroke-width="1.6"/>
<path d="M1228.0,228 V106 H1294.0 V167 M1228.0,167 H1425.0 V228 H1360.0 M1360.0,167 V349 H1294.0 M1294.0,349 V288 M1360.0,288 H1163.0 V228 H1228.0 V288" fill="none" stroke="#15152e" stroke-width="1.6"/>
<path d="M1132,87.5 V370 M828,369.6 H1134 M1141,369.8 H1448" stroke="#111" stroke-width="1.6"/>
<path d="M849,372.9 H1117 M1165,372.9 H1420" stroke="#aaa" stroke-width="1"/>
<path d="M1447.5,87.5 V370" stroke="#111" stroke-width="2"/>
<text x="839" y="130" font-size="45" font-weight="bold" fill="#d9539b" transform="translate(839,0) scale(0.95,1) translate(-839,0)">C</text>
<text x="1151.5" y="130" font-size="45" font-weight="bold" fill="#d9539b" transform="translate(1151.5,0) scale(0.95,1) translate(-1151.5,0)">D</text>
<text x="1060" y="117.8" font-size="29.2" fill="#d9539b">RCP</text>
<text x="1379.5" y="117.8" font-size="29.2" fill="#d9539b">LCP</text>
<rect x="1079" y="323" width="135" height="45" fill="#fff"/>
<text x="1083" y="352.6" font-size="28.7" fill="#e2001a">First layer</text>
<rect x="1046" y="621" width="178" height="45" fill="#fff"/>
<text x="1050" y="649.7" font-size="28.7" fill="#e2001a">Second layer</text>
</svg></body></html>
